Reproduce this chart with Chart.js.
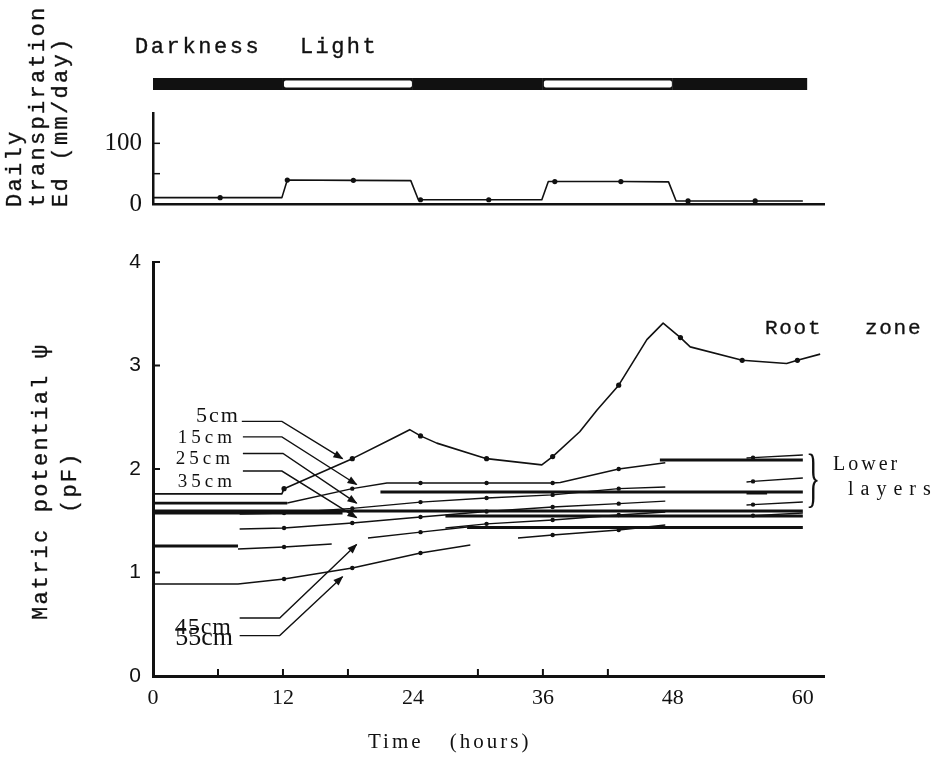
<!DOCTYPE html>
<html><head><meta charset="utf-8">
<script src="https://cdn.jsdelivr.net/npm/chart.js@4.4.1/dist/chart.umd.min.js"></script>
<style>
html,body{margin:0;padding:0;background:#fff;}
#wrap{position:relative;width:944px;height:775px;overflow:hidden;background:#fff;}
canvas{position:absolute;left:0;}
#topc{top:0;} #botc{top:230px;}
.t{position:absolute;white-space:nowrap;color:#111;line-height:1;}
.mono{font-family:"Liberation Mono","DejaVu Sans Mono",monospace;-webkit-text-stroke:0.35px #111;}
.serif{font-family:"Liberation Serif","DejaVu Serif",serif;}
.rot{transform-origin:0 0;transform:rotate(-90deg);}
</style></head>
<body><div id="wrap">
<canvas id="topc" width="944" height="230"></canvas>
<canvas id="botc" width="944" height="545"></canvas>

<div class="t mono" style="left:135px;top:37px;font-size:22px;letter-spacing:2.6px">Darkness</div>
<div class="t mono" style="left:300px;top:37px;font-size:22px;letter-spacing:2.4px">Light</div>

<div class="t mono rot" style="left:5px;top:207px;font-size:22px;line-height:22px;letter-spacing:2.3px">Daily</div>
<div class="t mono rot" style="left:28px;top:207px;font-size:22px;line-height:22px;letter-spacing:2.3px">transpiration</div>
<div class="t mono rot" style="left:51px;top:207px;font-size:22px;line-height:22px;letter-spacing:2.3px">Ed (mm/day)</div>

<div class="t mono rot" style="left:31px;top:620px;font-size:22px;line-height:22px;letter-spacing:2.2px">Matric potential ψ</div>
<div class="t mono rot" style="left:60px;top:513px;font-size:22px;line-height:22px;letter-spacing:2.2px">(pF)</div>

<div class="t mono" style="left:765px;top:318px;font-size:21px;letter-spacing:1.7px">Root</div>
<div class="t mono" style="left:865px;top:318px;font-size:21px;letter-spacing:1.7px">zone</div>
<div class="t serif" style="left:833px;top:453px;font-size:20px;letter-spacing:3px">Lower</div>
<div class="t serif" style="left:848px;top:478px;font-size:20px;letter-spacing:7px">layers</div>
<div class="t serif" style="left:806px;top:444px;font-size:66px;font-weight:300;transform:scaleX(0.45);transform-origin:0 0">}</div>

<div class="t serif" style="right:704px;top:404px;font-size:22px;letter-spacing:2px">5cm</div>
<div class="t serif" style="right:708px;top:427px;font-size:19px;letter-spacing:4px">15cm</div>
<div class="t serif" style="right:710px;top:448px;font-size:19px;letter-spacing:4px">25cm</div>
<div class="t serif" style="right:708px;top:471px;font-size:19px;letter-spacing:4px">35cm</div>
<div class="t serif" style="right:712px;top:614px;font-size:24px;letter-spacing:1px">45cm</div>
<div class="t serif" style="right:711px;top:624px;font-size:26px;letter-spacing:0px">55cm</div>

<div class="t serif" style="left:368px;top:731px;font-size:21px;letter-spacing:3px;word-spacing:18px">Time (hours)</div>
</div>
<script>
// ---------------- data ----------------
const X_TICKS = [0, 12, 24, 36, 48, 60];
const PF_TICKS = [0, 1, 2, 3, 4];
const ED_TICKS = [0, 100];
const ED_MINOR = [50, 100];
const PF_MINOR = [1, 2, 3, 4];
const X_MINOR = [6, 12, 18, 30, 36, 42];

// light / dark periods (hours)
const PERIOD_FROM = [0, 12, 24, 36, 48];
const PERIOD_TO   = [12, 24, 36, 48, 60.4];
const PERIOD_KIND = ['dark', 'light', 'dark', 'light', 'dark'];

// daily transpiration Ed (mm/day)
const ED_T = [0, 6.2, 11.9, 12.4, 18.5, 23.8, 24.5, 24.7, 31.0, 35.9, 36.5, 37.1, 43.2, 47.6, 48.3, 49.4, 55.6, 60.0];
const ED_V = [10.5, 10.5, 10.5, 39.5, 39, 38.5, 7, 7, 7, 7, 37, 37, 37, 36.5, 5, 5, 5, 5];
const ED_DOTS = [6.2, 12.4, 18.5, 24.7, 31.0, 37.1, 43.2, 49.4, 55.6];

// root zone (5 cm) matric potential
const ROOT_T  = [0, 11.9, 12.1, 18.4, 22.2, 23.7, 24.7, 26.2, 30.8, 35.9, 36.9, 39.4, 41.0, 43.0, 45.6, 47.1, 48.7, 49.6, 54.4, 58.5, 59.5, 61.6];
const ROOT_PF = [1.76, 1.76, 1.81, 2.10, 2.30, 2.38, 2.32, 2.25, 2.10, 2.04, 2.12, 2.36, 2.57, 2.81, 3.25, 3.41, 3.27, 3.18, 3.05, 3.02, 3.05, 3.11];

// lower layers (thin traces)
const L15_T  = [12.4, 18.4, 21.6, 24.7, 30.8, 36.9, 37.6, 43.0, 47.3];
const L15_PF = [1.671, 1.81, 1.865, 1.865, 1.865, 1.865, 1.87, 2.0, 2.06];
const L25_T  = [8.0, 12.1, 18.4, 24.7, 30.8, 36.9, 43.0, 47.3];
const L25_PF = [1.565, 1.575, 1.62, 1.68, 1.72, 1.75, 1.81, 1.826];
const L35_T  = [8.0, 12.1, 18.4, 24.7, 30.8, 36.9, 43.0, 47.3];
const L35_PF = [1.42, 1.43, 1.478, 1.536, 1.59, 1.633, 1.665, 1.69];
const LK_T   = [27.0, 30.8, 36.9, 43.0, 47.3];
const LK_PF  = [1.43, 1.47, 1.507, 1.556, 1.585];
const L45A_T = [7.85, 12.1, 16.5];
const L45A_PF = [1.227, 1.246, 1.275];
const L45B_T = [19.85, 24.7, 29.0];
const L45B_PF = [1.333, 1.39, 1.44];
const L45C_T = [33.7, 36.9, 43.0, 47.3];
const L45C_PF = [1.333, 1.362, 1.41, 1.459];
const L55_T  = [0, 7.85, 12.1, 18.4, 24.7, 29.3];
const L55_PF = [0.889, 0.889, 0.937, 1.043, 1.188, 1.266];
const RIGHT_T = [54.8, 55.4, 60];
const RIGHT_A = [2.106, 2.11, 2.135];
const RIGHT_B = [1.874, 1.88, 1.913];
const RIGHT_C = [1.652, 1.656, 1.681];
const RIGHT_D = [1.546, 1.55, 1.575];

// constant levels (thick horizontal traces)
const LEVEL_FROM = [0, 0, 0, 27.0, 21.0, 46.8, 29.0, 0, 54.8];
const LEVEL_TO   = [12.4, 60, 17.5, 60, 60, 60, 60, 7.85, 56.7];
const LEVEL_PF   = [1.671, 1.594, 1.575, 1.546, 1.778, 2.087, 1.435, 1.256, 1.768];

const PF_DOTS = [12.1, 18.4, 24.7, 30.8, 36.9, 43.0, 48.7, 54.4, 55.4, 59.5];

// depth call-out leaders (hours, pF)
const CALLOUT_5  = [[8.2, 2.46], [11.9, 2.46], [17.5, 2.10]];
const CALLOUT_15 = [[8.3, 2.31], [11.9, 2.31], [18.8, 1.85]];
const CALLOUT_25 = [[8.3, 2.15], [12.0, 2.15], [18.8, 1.67]];
const CALLOUT_35 = [[8.3, 1.98], [11.9, 1.98], [18.8, 1.53]];
const CALLOUT_45 = [[8.0, 0.56], [11.7, 0.56], [18.8, 1.27]];
const CALLOUT_55 = [[8.0, 0.39], [11.7, 0.39], [17.5, 0.96]];

// ---------------- helpers ----------------
const INK = '#111';
const pts = (T, V) => T.map((t, i) => ({x: t, y: V[i]}));
const near = (list, v) => list.some(d => Math.abs(d - v) < 0.01);

const innerTicks = {
  id: 'innerTicks',
  afterDatasetsDraw(chart, args, opts) {
    const ctx = chart.ctx, a = chart.chartArea, sx = chart.scales.x, sy = chart.scales.y;
    ctx.save(); ctx.strokeStyle = INK; ctx.lineWidth = opts.width || 2;
    (opts.x || []).forEach(v => { const px = sx.getPixelForValue(v);
      ctx.beginPath(); ctx.moveTo(px, a.bottom); ctx.lineTo(px, a.bottom - opts.len); ctx.stroke(); });
    (opts.y || []).forEach(v => { const py = sy.getPixelForValue(v);
      ctx.beginPath(); ctx.moveTo(a.left, py); ctx.lineTo(a.left + opts.len, py); ctx.stroke(); });
    ctx.restore();
  }
};

const arrowHeads = {
  id: 'arrowHeads',
  afterDatasetsDraw(chart) {
    const ctx = chart.ctx;
    chart.data.datasets.forEach((ds, i) => {
      if (!ds.arrow) return;
      const el = chart.getDatasetMeta(i).data;
      const a = el[el.length - 2], b = el[el.length - 1];
      const ang = Math.atan2(b.y - a.y, b.x - a.x);
      ctx.save(); ctx.translate(b.x, b.y); ctx.rotate(ang);
      ctx.beginPath(); ctx.moveTo(1, 0); ctx.lineTo(-9, -3.8); ctx.lineTo(-9, 3.8); ctx.closePath();
      ctx.fillStyle = INK; ctx.fill(); ctx.restore();
    });
  }
};

const dayBar = {
  id: 'dayBar',
  afterDraw(chart) {
    const ctx = chart.ctx, sx = chart.scales.x;
    ctx.save();
    PERIOD_FROM.forEach((f, i) => {
      const x0 = sx.getPixelForValue(f), x1 = sx.getPixelForValue(PERIOD_TO[i]);
      ctx.fillStyle = INK; ctx.fillRect(x0, 78, x1 - x0, 12);
      if (PERIOD_KIND[i] === 'light') {
        ctx.fillStyle = '#fff';
        ctx.beginPath(); ctx.roundRect(x0 + 1, 80.5, x1 - x0 - 2, 7, 2); ctx.fill();
      }
    });
    ctx.restore();
  }
};

Chart.defaults.font.family = '"Liberation Serif", serif';
Chart.defaults.color = INK;

const fixedTicks = list => s => { s.ticks = list.map(v => ({value: v})); };

// ---------------- top chart ----------------
new Chart(document.getElementById('topc'), {
  type: 'line',
  data: { datasets: [{
    data: pts(ED_T, ED_V), borderColor: INK, borderWidth: 1.6, tension: 0,
    borderJoinStyle: 'round',
    pointRadius: c => near(ED_DOTS, c.raw.x) ? 2.6 : 0,
    pointBackgroundColor: INK, pointBorderWidth: 0
  }]},
  options: {
    responsive: false, animation: false, events: [], devicePixelRatio: 1,
    layout: { padding: { left: 0, top: 113, right: 944 - 824.5, bottom: 0 } },
    plugins: { legend: {display: false}, tooltip: {enabled: false},
      innerTicks: { y: ED_MINOR, len: 7, width: 1.5 } },
    scales: {
      x: { type: 'linear', min: 0, max: 62, afterBuildTicks: fixedTicks(X_TICKS),
        ticks: {display: false}, grid: {display: false},
        border: {display: true, color: INK, width: 2.5},
        afterFit: s => { s.height = 19; } },
      y: { type: 'linear', min: 0, max: 150, afterBuildTicks: fixedTicks(ED_TICKS),
        ticks: {font: {size: 25, family: '"Liberation Serif", serif'}, padding: 11, color: INK},
        grid: {display: false, drawTicks: false},
        border: {display: true, color: INK, width: 2.5},
        afterFit: s => { s.width = 153; } }
    }
  },
  plugins: [dayBar, innerTicks]
});

// ---------------- bottom chart ----------------
const ds = [];
const thin = (T, V) => ({ data: pts(T, V), borderColor: INK, borderWidth: 1.4, tension: 0,
  borderJoinStyle: 'round', pointRadius: c => near(PF_DOTS, c.raw.x) ? 2.2 : 0,
  pointBackgroundColor: INK, pointBorderWidth: 0 });
ds.push(Object.assign(thin(ROOT_T, ROOT_PF), {borderWidth: 1.6, pointRadius: c => near(PF_DOTS, c.raw.x) ? 2.6 : 0}));
LEVEL_PF.forEach((v, i) => ds.push({ data: pts([LEVEL_FROM[i], LEVEL_TO[i]], [v, v]),
  borderColor: INK, borderWidth: 2.8, pointRadius: 0, borderCapStyle: 'butt' }));
[[L15_T, L15_PF], [L25_T, L25_PF], [L35_T, L35_PF], [LK_T, LK_PF], [L45A_T, L45A_PF],
 [L45B_T, L45B_PF], [L45C_T, L45C_PF], [L55_T, L55_PF],
 [RIGHT_T, RIGHT_A], [RIGHT_T, RIGHT_B], [RIGHT_T, RIGHT_C], [RIGHT_T, RIGHT_D]]
  .forEach(([T, V]) => ds.push(thin(T, V)));
[CALLOUT_5, CALLOUT_15, CALLOUT_25, CALLOUT_35, CALLOUT_45, CALLOUT_55].forEach(p =>
  ds.push({ data: p.map(q => ({x: q[0], y: q[1]})), borderColor: INK, borderWidth: 1.4,
    pointRadius: 0, tension: 0, arrow: true }));

new Chart(document.getElementById('botc'), {
  type: 'line',
  data: { datasets: ds },
  options: {
    responsive: false, animation: false, events: [], devicePixelRatio: 1,
    layout: { padding: { left: 0, top: 32, right: 944 - 824.5, bottom: 0 } },
    plugins: { legend: {display: false}, tooltip: {enabled: false},
      innerTicks: { x: X_MINOR, y: PF_MINOR, len: 7, width: 2 } },
    scales: {
      x: { type: 'linear', min: 0, max: 62, afterBuildTicks: fixedTicks(X_TICKS),
        ticks: {font: {size: 22, family: '"Liberation Serif", serif'}, padding: 9, color: INK, maxRotation: 0},
        grid: {display: false, drawTicks: false},
        border: {display: true, color: INK, width: 3},
        afterFit: s => { s.height = 99; } },
      y: { type: 'linear', min: 0, max: 4, afterBuildTicks: fixedTicks(PF_TICKS),
        ticks: {font: {size: 21, family: '"Liberation Sans", sans-serif'}, padding: 12, color: INK},
        grid: {display: false, drawTicks: false},
        border: {display: true, color: INK, width: 3},
        afterFit: s => { s.width = 153; } }
    }
  },
  plugins: [innerTicks, arrowHeads]
});
</script>
</body></html>
